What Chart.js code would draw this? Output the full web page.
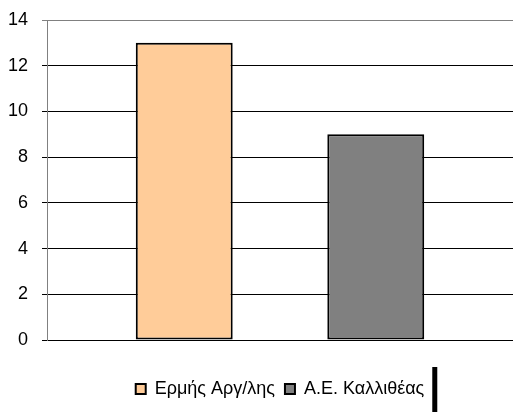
<!DOCTYPE html>
<html>
<head>
<meta charset="utf-8">
<script src="https://cdn.jsdelivr.net/npm/chart.js@4"></script>
<style>
  html, body { margin: 0; padding: 0; background: #fff; }
  #wrap { width: 513px; height: 412px; }
</style>
</head>
<body>
<div id="wrap"><canvas id="chart"></canvas></div>
<script>
// ===== Data =====
const categories = [""];
const seriesNames = ["Ερμής Αργ/λης", "Α.Ε. Καλλιθέας"];
const seriesValues = [13, 9];
const seriesColors = ["#FFCC99", "#808080"];
const yMin = 0;
const yMax = 14;
const yStep = 2;

// black marker right of the legend, as in the original picture
const legendMark = {
  id: "legendMark",
  afterDraw(chart) {
    const lg = chart.legend;
    if (!lg || !lg.legendHitBoxes.length) return;
    const last = lg.legendHitBoxes[lg.legendHitBoxes.length - 1];
    const ctx = chart.ctx;
    ctx.save();
    ctx.fillStyle = "#000";
    ctx.fillRect(last.left + last.width + 8, 367, 5, chart.height - 367);
    ctx.restore();
  }
};

const ctx = document.getElementById("chart").getContext("2d");
new Chart(ctx, {
  type: "bar",
  data: {
    labels: categories,
    datasets: seriesNames.map((name, i) => ({
      label: name,
      data: [seriesValues[i]],
      backgroundColor: seriesColors[i],
      borderColor: "#000",
      borderWidth: 2,
      borderSkipped: false,
      categoryPercentage: 0.822,
      barPercentage: 0.506
    }))
  },
  options: {
    responsive: true,
    maintainAspectRatio: false,
    animation: false,
    layout: { padding: { left: 0, right: 0, top: 20, bottom: 4 } },
    scales: {
      x: {
        grid: { display: false },
        border: { display: false },
        ticks: { display: false },
        afterFit(scale) { scale.height = 30; }
      },
      y: {
        min: yMin,
        max: yMax,
        afterFit(scale) {
          scale.width = 47;
          scale.paddingTop = 0;
          scale.paddingBottom = 0;
        },
        ticks: {
          stepSize: yStep,
          padding: 14,
          color: "#000",
          font: { family: "'Liberation Sans', Arial, sans-serif", size: 18 }
        },
        grid: {
          tickLength: 5,
          color: (c) => (c.tick && c.tick.value === yMax ? "#808080" : "#000"),
          lineWidth: 1
        },
        border: { color: "#808080", width: 1 }
      }
    },
    plugins: {
      legend: {
        position: "bottom",
        fullSize: false,
        labels: {
          color: "#000",
          boxWidth: 10,
          boxHeight: 10,
          padding: 10,
          font: { family: "'Liberation Sans', Arial, sans-serif", size: 18 }
        }
      },
      tooltip: { enabled: false }
    }
  },
  plugins: [legendMark]
});
</script>
</body>
</html>
